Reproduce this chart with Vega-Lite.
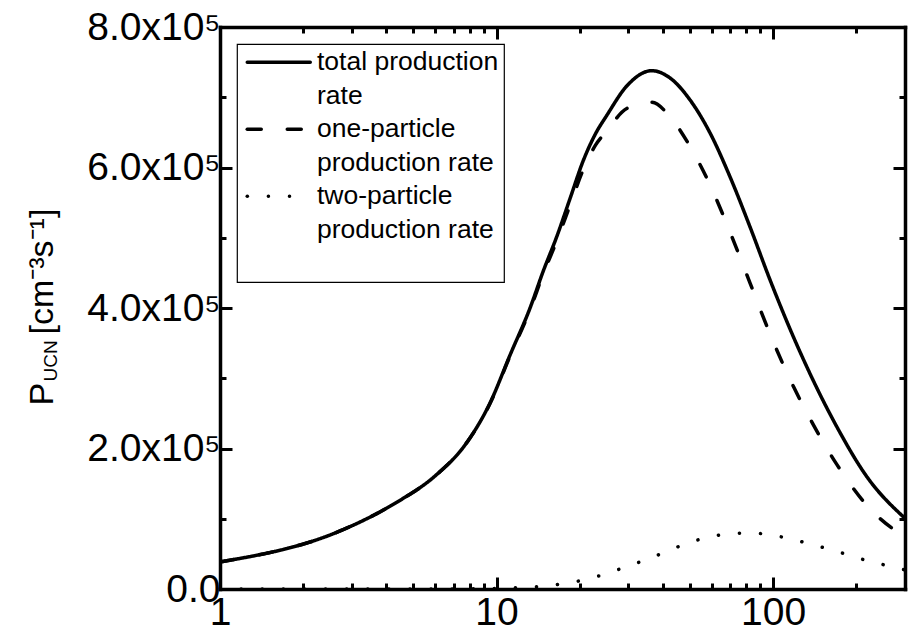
{
  "$schema": "https://vega.github.io/schema/vega-lite/v6.json",
  "width": 685,
  "height": 562,
  "autosize": {"type": "none"},
  "padding": {"left": 220, "top": 27, "right": 5, "bottom": 43},
  "background": "white",
  "config": {
    "view": {"stroke": null},
    "axis": {
      "grid": false,
      "domainColor": "black",
      "domainWidth": 3.5,
      "domainCap": "square",
      "tickColor": "black",
      "tickWidth": 3,
      "labelFont": "Liberation Sans",
      "labelFontSize": 39,
      "labelColor": "black",
      "titleFont": "Liberation Sans",
      "titleColor": "black",
      "titleFontWeight": "normal"
    }
  },
  "data": {
    "values": [
      {"series": "total production rate", "x": 1, "y": 38500},
      {"series": "total production rate", "x": 2.677, "y": 81600},
      {"series": "total production rate", "x": 4.296, "y": 122000},
      {"series": "total production rate", "x": 5.993, "y": 160900},
      {"series": "total production rate", "x": 7.692, "y": 205000},
      {"series": "total production rate", "x": 9.474, "y": 264800},
      {"series": "total production rate", "x": 11.19, "y": 333000},
      {"series": "total production rate", "x": 13.22, "y": 400000},
      {"series": "total production rate", "x": 14.77, "y": 453000},
      {"series": "total production rate", "x": 16.51, "y": 501500},
      {"series": "total production rate", "x": 18.45, "y": 556000},
      {"series": "total production rate", "x": 20.6, "y": 610000},
      {"series": "total production rate", "x": 22.8, "y": 648000},
      {"series": "total production rate", "x": 25.03, "y": 674000},
      {"series": "total production rate", "x": 29.58, "y": 716000},
      {"series": "total production rate", "x": 36.42, "y": 737800},
      {"series": "total production rate", "x": 42.42, "y": 727400},
      {"series": "total production rate", "x": 50.1, "y": 696100},
      {"series": "total production rate", "x": 59.18, "y": 649100},
      {"series": "total production rate", "x": 69.92, "y": 586500},
      {"series": "total production rate", "x": 82.57, "y": 515300},
      {"series": "total production rate", "x": 97.54, "y": 439900},
      {"series": "total production rate", "x": 118.4, "y": 359100},
      {"series": "total production rate", "x": 132.4, "y": 316400},
      {"series": "total production rate", "x": 170, "y": 231000},
      {"series": "total production rate", "x": 218.3, "y": 159900},
      {"series": "total production rate", "x": 300, "y": 100600},
      {"series": "one-particle production rate", "x": 1, "y": 38500},
      {"series": "one-particle production rate", "x": 2.677, "y": 81600},
      {"series": "one-particle production rate", "x": 4.296, "y": 122000},
      {"series": "one-particle production rate", "x": 5.993, "y": 160900},
      {"series": "one-particle production rate", "x": 7.692, "y": 204800},
      {"series": "one-particle production rate", "x": 9.474, "y": 264200},
      {"series": "one-particle production rate", "x": 11.19, "y": 331700},
      {"series": "one-particle production rate", "x": 13.22, "y": 397400},
      {"series": "one-particle production rate", "x": 14.77, "y": 449100},
      {"series": "one-particle production rate", "x": 16.51, "y": 495300},
      {"series": "one-particle production rate", "x": 18.45, "y": 546600},
      {"series": "one-particle production rate", "x": 20.6, "y": 597300},
      {"series": "one-particle production rate", "x": 22.8, "y": 631800},
      {"series": "one-particle production rate", "x": 25.03, "y": 652000},
      {"series": "one-particle production rate", "x": 29.58, "y": 684000},
      {"series": "one-particle production rate", "x": 36.42, "y": 692800},
      {"series": "one-particle production rate", "x": 42.42, "y": 672100},
      {"series": "one-particle production rate", "x": 50.1, "y": 629900},
      {"series": "one-particle production rate", "x": 59.18, "y": 575100},
      {"series": "one-particle production rate", "x": 69.92, "y": 507850},
      {"series": "one-particle production rate", "x": 82.57, "y": 435500},
      {"series": "one-particle production rate", "x": 97.54, "y": 362900},
      {"series": "one-particle production rate", "x": 118.4, "y": 288500},
      {"series": "one-particle production rate", "x": 132.4, "y": 251100},
      {"series": "one-particle production rate", "x": 170, "y": 177400},
      {"series": "one-particle production rate", "x": 218.3, "y": 119100},
      {"series": "one-particle production rate", "x": 300, "y": 73400},
      {"series": "two-particle production rate", "x": 1, "y": 0},
      {"series": "two-particle production rate", "x": 5, "y": 0},
      {"series": "two-particle production rate", "x": 8, "y": 200},
      {"series": "two-particle production rate", "x": 10, "y": 700},
      {"series": "two-particle production rate", "x": 12, "y": 1800},
      {"series": "two-particle production rate", "x": 14.4, "y": 3500},
      {"series": "two-particle production rate", "x": 17, "y": 7000},
      {"series": "two-particle production rate", "x": 20.2, "y": 12000},
      {"series": "two-particle production rate", "x": 24.1, "y": 20000},
      {"series": "two-particle production rate", "x": 28.6, "y": 30000},
      {"series": "two-particle production rate", "x": 34.2, "y": 40700},
      {"series": "two-particle production rate", "x": 40.7, "y": 52500},
      {"series": "two-particle production rate", "x": 48.7, "y": 64800},
      {"series": "two-particle production rate", "x": 57.8, "y": 73300},
      {"series": "two-particle production rate", "x": 69.6, "y": 78600},
      {"series": "two-particle production rate", "x": 82.5, "y": 79800},
      {"series": "two-particle production rate", "x": 97.6, "y": 77000},
      {"series": "two-particle production rate", "x": 116.5, "y": 71100},
      {"series": "two-particle production rate", "x": 140, "y": 62800},
      {"series": "two-particle production rate", "x": 168, "y": 54300},
      {"series": "two-particle production rate", "x": 198, "y": 45100},
      {"series": "two-particle production rate", "x": 239, "y": 36800},
      {"series": "two-particle production rate", "x": 284, "y": 29200},
      {"series": "two-particle production rate", "x": 300, "y": 27200}
    ]
  },
  "layer": [
    {
      "transform": [{"filter": "datum.series != 'two-particle production rate'"}],
      "mark": {"type": "line", "color": "black", "strokeCap": "round", "interpolate": "monotone", "clip": true},
      "encoding": {
        "x": {
          "field": "x", "type": "quantitative",
          "scale": {"type": "log", "domain": [1, 300], "nice": false},
          "axis": {
            "orient": "bottom",
            "values": [1, 2, 3, 4, 5, 6, 7, 8, 9, 10, 20, 30, 40, 50, 60, 70, 80, 90, 100, 200, 300],
            "labelExpr": "(datum.value == 1 || datum.value == 10 || datum.value == 100) ? format(datum.value, 'd') : ''",
            "tickSize": {"condition": {"test": "datum.value == 1 || datum.value == 10 || datum.value == 100", "value": -12}, "value": -6},
            "labelPadding": 16,
            "labelFlush": false,
            "labelOverlap": false,
            "labelBound": false,
            "title": "UCN",
            "titleFontSize": 19,
            "titleAngle": -90,
            "titleX": -164,
            "titleY": -208,
            "titleAlign": "left",
            "titleBaseline": "alphabetic"
          }
        },
        "y": {
          "field": "y", "type": "quantitative",
          "scale": {"domain": [0, 800000], "nice": false},
          "axis": {
            "orient": "left",
            "values": [0, 100000, 200000, 300000, 400000, 500000, 600000, 700000, 800000],
            "labelExpr": "datum.value % 200000 == 0 ? (datum.value == 0 ? '0.0' : format(datum.value / 100000, '.1f') + 'x10⁵') : ''",
            "tickSize": {"condition": {"test": "datum.value % 200000 == 0", "value": -12}, "value": -6},
            "labelPadding": 12,
            "labelFlush": false,
            "labelOverlap": false,
            "labelBound": false,
            "title": "P",
            "titleFontSize": 34,
            "titleAngle": -90,
            "titleX": -168,
            "titleY": 378,
            "titleAlign": "left",
            "titleBaseline": "alphabetic"
          }
        },
        "strokeDash": {
          "field": "series", "type": "nominal",
          "scale": {
            "domain": ["total production rate", "t2", "one-particle production rate", "o2", "two-particle production rate", "w2", "blank"],
            "range": [[1, 0], [1, 0], [14, 26], [1, 0], [0.1, 21], [1, 0], [1, 0]]
          },
          "legend": {
            "orient": "none",
            "legendX": 17,
            "legendY": 17,
            "title": null,
            "symbolType": "M-3.15,0L3.15,0",
            "symbolSize": 400,
            "symbolOffset": 23.5,
            "symbolStrokeColor": "black",
            "labelFont": "Liberation Sans",
            "labelFontSize": 26.5,
            "labelColor": "black",
            "labelLimit": 600,
            "labelOffset": 25,
            "labelBaseline": "middle",
            "labelExpr": "datum.label == 'total production rate' ? 'total production' : datum.label == 't2' ? 'rate' : datum.label == 'one-particle production rate' ? 'one-particle' : datum.label == 'two-particle production rate' ? 'two-particle' : (datum.label == 'o2' || datum.label == 'w2') ? 'production rate' : ''",
            "padding": 5,
            "rowPadding": 6.5,
            "strokeColor": "black",
            "fillColor": "white",
            "encode": {
              "symbols": {"update": {
                "strokeCap": {"value": "round"},
                "opacity": {"signal": "indexof(['t2', 'o2', 'w2', 'blank'], datum.value) >= 0 ? 0 : 1"},
                "strokeWidth": {"signal": "datum.value == 'two-particle production rate' ? 7 : datum.value == 'one-particle production rate' ? 4.5 : 3.5"}
              }},
              "legend": {"update": {"strokeWidth": {"value": 1.2}}}
            }
          }
        },
        "strokeWidth": {
          "field": "series", "type": "nominal",
          "scale": {
            "domain": ["total production rate", "t2", "one-particle production rate", "o2", "two-particle production rate", "w2", "blank"],
            "range": [3.5, 3.5, 4.5, 3.5, 7, 3.5, 3.5]
          },
          "legend": null
        }
      }
    },
    {
      "transform": [{"filter": "datum.series == 'two-particle production rate'"}],
      "mark": {"type": "line", "color": "black", "strokeCap": "round", "interpolate": "monotone", "clip": true},
      "encoding": {
        "x": {
          "field": "x", "type": "quantitative",
          "scale": {"type": "log", "domain": [1, 300], "nice": false},
          "axis": {
            "orient": "top",
            "values": [1, 2, 3, 4, 5, 6, 7, 8, 9, 10, 20, 30, 40, 50, 60, 70, 80, 90, 100, 200, 300],
            "labels": false,
            "tickSize": {"condition": {"test": "datum.value == 1 || datum.value == 10 || datum.value == 100", "value": -12}, "value": -6},
            "title": "[cm⁻³s⁻¹]",
            "titleFontSize": 34,
            "titleAngle": -90,
            "titleX": -168,
            "titleY": 307,
            "titleAlign": "left",
            "titleBaseline": "alphabetic"
          }
        },
        "y": {
          "field": "y", "type": "quantitative",
          "scale": {"domain": [0, 800000], "nice": false},
          "axis": {
            "orient": "right",
            "values": [0, 100000, 200000, 300000, 400000, 500000, 600000, 700000, 800000],
            "labels": false,
            "tickSize": {"condition": {"test": "datum.value % 200000 == 0", "value": -12}, "value": -6},
            "title": "y\u00a0(\u00a0\u00a0\u00a0\u00a0\u00a0\u00a0\u00a0\u00a0\u00a0\u00a0\u00a0\u00a0\u00a0\u00a0\u00a0)",
            "titleColor": "#f0892e",
            "titleFontSize": 64,
            "titleAngle": 0,
            "titleX": -655,
            "titleY": -50,
            "titleAlign": "left",
            "titleBaseline": "alphabetic"
          }
        },
        "strokeDash": {
          "field": "series", "type": "nominal",
          "scale": {
            "domain": ["total production rate", "t2", "one-particle production rate", "o2", "two-particle production rate", "w2", "blank"],
            "range": [[1, 0], [1, 0], [14, 26], [1, 0], [0.1, 21], [1, 0], [1, 0]]
          }
        },
        "strokeWidth": {
          "field": "series", "type": "nominal",
          "scale": {
            "domain": ["total production rate", "t2", "one-particle production rate", "o2", "two-particle production rate", "w2", "blank"],
            "range": [3.5, 3.5, 4.5, 3.5, 7, 3.5, 3.5]
          },
          "legend": null
        }
      }
    }
  ],
  "resolve": {"axis": {"x": "independent", "y": "independent"}}
}
